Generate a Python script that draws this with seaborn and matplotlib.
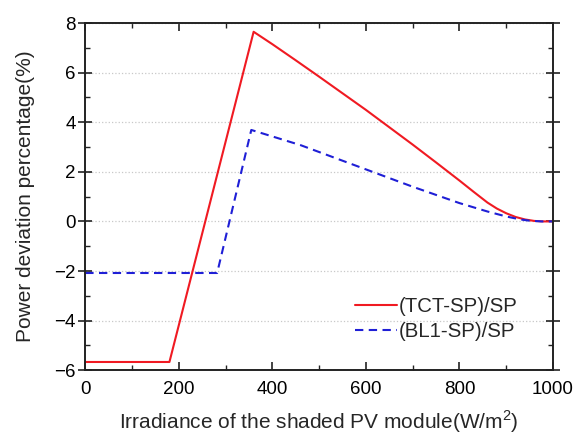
import matplotlib
matplotlib.use("Agg")
import matplotlib.pyplot as plt
import seaborn as sns
import numpy as np
import pandas as pd
from matplotlib.ticker import MultipleLocator

# Data
tct_x = [0, 180, 360, 400, 450, 500, 550, 600, 650, 700, 750, 800, 830, 860, 880,
         900, 920, 940, 960, 980, 1000]
tct_y = [-5.67, -5.67, 7.65, 7.15, 6.5, 5.84, 5.17, 4.5, 3.8, 3.1, 2.38, 1.65, 1.2,
         0.76, 0.52, 0.33, 0.18, 0.08, 0.02, 0.0, 0.0]
bl1_x = [0, 282, 355, 460, 600, 700, 800, 860, 900, 930, 950, 975, 1000]
bl1_y = [-2.08, -2.08, 3.69, 3.08, 2.1, 1.4, 0.74, 0.4, 0.2, 0.08, 0.03, 0.0, 0.0]

label_tct = "(TCT-SP)/SP"
label_bl1 = "(BL1-SP)/SP"
xlabel = "Irradiance of the shaded PV module(W/m$^2$)"
ylabel = "Power deviation percentage(%)"

sns.set_style("ticks")
plt.rcParams['font.family'] = ['Liberation Sans', 'DejaVu Sans']
plt.rcParams['mathtext.fontset'] = 'custom'
plt.rcParams['mathtext.rm'] = 'Liberation Sans'

fig = plt.figure(figsize=(5.76, 4.36), dpi=100)
ax = fig.add_axes([0.148, 0.151, 0.812, 0.796])

df_tct = pd.DataFrame({"x": tct_x, "y": tct_y})
df_bl1 = pd.DataFrame({"x": bl1_x, "y": bl1_y})

sns.lineplot(data=df_tct, x="x", y="y", ax=ax, color="#f01a22", linewidth=1.5,
             label=label_tct, sort=False)
sns.lineplot(data=df_bl1, x="x", y="y", ax=ax, color="#1f1fd6", linewidth=1.5,
             label=label_bl1, sort=False, dashes=False)
ax.lines[1].set_dashes((4, 2.6))

ax.set_xlim(0, 1000)
ax.set_ylim(-6, 8)
ax.xaxis.set_major_locator(MultipleLocator(200))
ax.xaxis.set_minor_locator(MultipleLocator(100))
ax.yaxis.set_major_locator(MultipleLocator(2))
ax.yaxis.set_minor_locator(MultipleLocator(1))

ax.yaxis.grid(True, which='major', color='#c8c8c8', linestyle=':', linewidth=0.9)
ax.set_axisbelow(True)

for s in ax.spines.values():
    s.set_visible(True)
    s.set_color('#222222')
    s.set_linewidth(1.4)

ax.tick_params(axis='x', which='major', direction='in', length=6, width=1.2,
               top=True, bottom=True, labelsize=13.5, pad=8, colors='#222222', labelcolor='black')
ax.tick_params(axis='x', which='minor', direction='in', length=3.5, width=1.0,
               top=True, bottom=True, colors='#222222')
ax.tick_params(axis='y', which='major', direction='inout', length=10, width=1.2,
               left=True, right=True, labelsize=13.5, pad=2, colors='#222222', labelcolor='black')
ax.tick_params(axis='y', which='minor', direction='in', length=3.5, width=1.0,
               left=True, right=True, colors='#222222')

ax.set_xlabel(xlabel, fontsize=15, labelpad=7)
ax.set_ylabel(ylabel, fontsize=15, labelpad=14)

leg = ax.legend(loc='upper left', bbox_to_anchor=(0.577, 0.21), frameon=False,
                borderaxespad=0, borderpad=0,
                fontsize=14.7, handlelength=2.05, handletextpad=0.08, labelspacing=0.3)

fig.savefig("out.png", dpi=100)
